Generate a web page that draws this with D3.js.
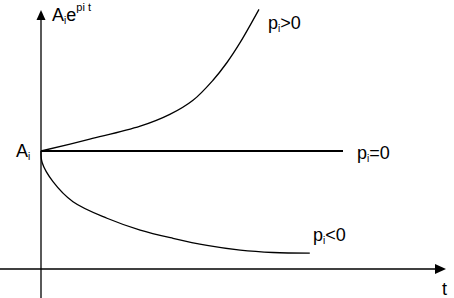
<!DOCTYPE html>
<html>
<head>
<meta charset="utf-8">
<script src="https://cdn.jsdelivr.net/npm/d3@7"></script>
<style>
body { margin: 0; background: #fff; }
svg { display: block; }
text { font-family: "Liberation Sans", Arial, sans-serif; fill: #000; }
</style>
</head>
<body>
<svg id="chart" width="454" height="298"></svg>
<script>
// values (t, A_i e^(p_i t) with A_i = 1)
var growT = [0, 1.22, 2.48, 3.22, 3.8, 4.3, 4.65, 4.98, 5.45];
var growV = [1, 1.1, 1.21, 1.31, 1.43, 1.6, 1.75, 1.92, 2.2];
var decayT = [0, 0.03, 0.3, 0.8, 1.65, 2.48, 3.3, 4.15, 4.98, 5.8, 6.72];
var decayV = [1, 0.9, 0.74, 0.57, 0.43, 0.33, 0.26, 0.2, 0.16, 0.14, 0.135];
var flatT = [0, 7.55];
var flatV = [1, 1];

var svg = d3.select("#chart");

var x = d3.scaleLinear().domain([0, 10]).range([41, 441]);
var y = d3.scaleLinear().domain([0, 1]).range([269, 151]);

function pts(ts, vs) {
    return ts.map(function (t, i) { return [t, vs[i]]; });
}

// axes
svg.append("line")
    .attr("x1", 0).attr("x2", 437)
    .attr("y1", y(0)).attr("y2", y(0))
    .attr("stroke", "#000").attr("stroke-width", 1.3);
svg.append("path")
    .attr("d", "M446," + y(0) + " L435," + (y(0) - 5) + " L435," + (y(0) + 5) + "Z")
    .attr("fill", "#000");

svg.append("line")
    .attr("x1", x(0)).attr("x2", x(0))
    .attr("y1", 298).attr("y2", 18)
    .attr("stroke", "#000").attr("stroke-width", 1.3);
svg.append("path")
    .attr("d", "M" + x(0) + ",10 L" + (x(0) - 4.5) + ",20 L" + (x(0) + 4.5) + ",20Z")
    .attr("fill", "#000");

var line = d3.line()
    .x(function (d) { return x(d[0]); })
    .y(function (d) { return y(d[1]); })
    .curve(d3.curveCatmullRom.alpha(0.5));

svg.append("path").attr("d", line(pts(growT, growV)))
    .attr("fill", "none").attr("stroke", "#000").attr("stroke-width", 1.3);
svg.append("path").attr("d", line(pts(decayT, decayV)))
    .attr("fill", "none").attr("stroke", "#000").attr("stroke-width", 1.3);
svg.append("path").attr("d", line(pts(flatT, flatV)))
    .attr("fill", "none").attr("stroke", "#000").attr("stroke-width", 2);

// labels with subscript i
function label(px, py, main, rest) {
    var t = svg.append("text").attr("x", px).attr("y", py).style("font-size", "18px");
    t.append("tspan").text(main);
    t.append("tspan").text("i").style("font-size", "10px").attr("dy", 3);
    t.append("tspan").text(rest).attr("dy", -3);
    return t;
}

label(268, 29, "p", ">0");
label(357, 159, "p", "=0");
label(313, 241, "p", "<0");
label(16, 157, "A", "");

var yl = label(52, 21, "A", "e");
yl.append("tspan").text("pi t").style("font-size", "11px").attr("dy", -10);

svg.append("text").attr("x", 442).attr("y", 295).style("font-size", "18px").text("t");
</script>
</body>
</html>
